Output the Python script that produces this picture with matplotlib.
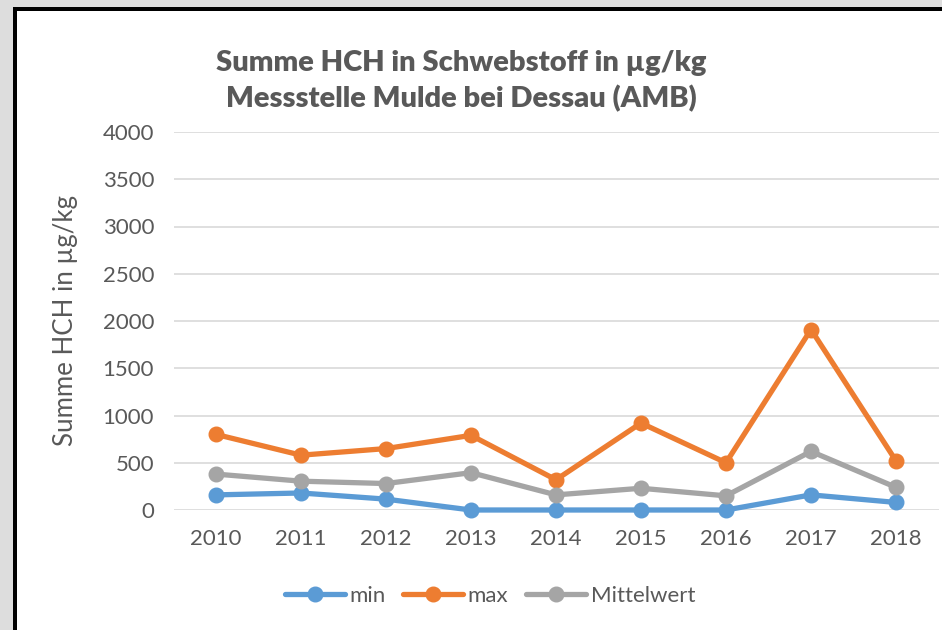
import matplotlib
matplotlib.use("Agg")
import matplotlib.pyplot as plt
from matplotlib.patches import Rectangle

# data
years = ["2010", "2011", "2012", "2013", "2014", "2015", "2016", "2017", "2018"]
val_min = [160, 180, 115, 0, 0, 0, 0, 160, 80]
val_max = [800, 580, 650, 790, 320, 920, 500, 1910, 520]
val_mean = [380, 305, 280, 395, 160, 230, 150, 620, 240]
y_ticks = [0, 500, 1000, 1500, 2000, 2500, 3000, 3500, 4000]

W, H = 942, 630
text_col = "#595959"
plt.rcParams["font.family"] = ["Lato", "DejaVu Sans"]

fig = plt.figure(figsize=(W / 100, H / 100), dpi=100)
fig.patch.set_facecolor("#dddddd")

# window frame: black border on left/top, white chart area
fig.patches.append(Rectangle((13 / W, 0), 1, 1 - 7 / H, transform=fig.transFigure,
                             facecolor="black", edgecolor="none", zorder=-2))
fig.patches.append(Rectangle((17 / W, 0), 1, 1 - 11 / H, transform=fig.transFigure,
                             facecolor="white", edgecolor="none", zorder=-1))

ax = fig.add_axes([173.5 / W, 1 - 510 / H, 765 / W, 378 / H])
ax.set_facecolor("none")

x = list(range(len(years)))
series = [("min", val_min, "#5B9BD5"), ("max", val_max, "#ED7D31"), ("Mittelwert", val_mean, "#A5A5A5")]
for name, vals, col in series:
    ax.plot(x, vals, color=col, lw=3.8, marker="o", ms=10.5, label=name,
            clip_on=False, solid_capstyle="round", zorder=3)

ax.set_xlim(-0.5, len(years) - 0.5)
ax.set_ylim(0, 4000)
ax.set_xticks(x)
ax.set_xticklabels(years)
ax.set_yticks(y_ticks)
ax.grid(axis="y", color="#d9d9d9", lw=1.2)
ax.set_axisbelow(True)
for s in ax.spines.values():
    s.set_visible(False)
ax.tick_params(length=0, labelsize=16, labelcolor=text_col)
ax.tick_params(axis="x", pad=14)
ax.tick_params(axis="y", pad=14)

fig.text(65 / W, 1 - 321 / H, "Summe HCH in µg/kg", rotation=90, ha="center", va="center",
         fontsize=18.6, color=text_col)
fig.text(461 / W, 1 - 81 / H, "Summe HCH in Schwebstoff in µg/kg\nMessstelle Mulde bei Dessau (AMB)",
         ha="center", va="center", fontsize=21, fontweight="heavy", color=text_col, linespacing=1.4)

leg = fig.legend(loc="center", bbox_to_anchor=(490 / W, 1 - 596 / H), ncol=3, frameon=False,
                 fontsize=16, handlelength=2.7, handletextpad=0.2, columnspacing=0.8)
for t in leg.get_texts():
    t.set_color(text_col)

fig.savefig("out.png", dpi=100)
